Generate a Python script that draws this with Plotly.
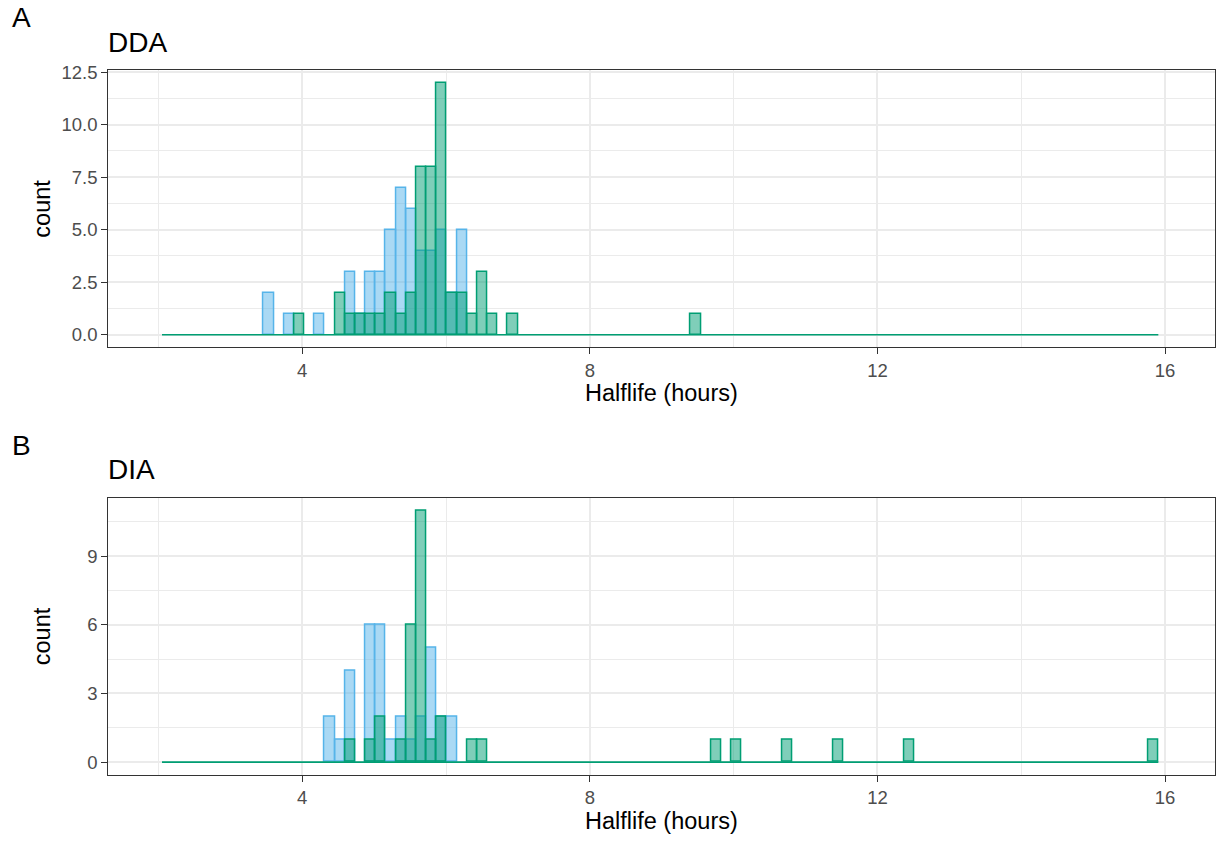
import plotly.graph_objects as go

# ---- data (halflife bin centres, hours, and counts per bin) ----
BIN_START = 2.05
BIN_END = 15.907
BIN_SIZE = 0.1414

dda_blue_x = [3.53, 3.82, 4.24, 4.67, 4.81, 4.95, 5.09, 5.23, 5.37, 5.51, 5.66, 5.80, 5.94, 6.08, 6.22]
dda_blue_n = [2, 1, 1, 3, 1, 3, 3, 5, 7, 6, 4, 4, 5, 2, 5]
dda_green_x = [3.96, 4.52, 4.67, 4.81, 4.95, 5.09, 5.23, 5.37, 5.51, 5.66, 5.80, 5.94, 6.08, 6.22,
               6.36, 6.50, 6.65, 6.93, 9.47]
dda_green_n = [1, 2, 1, 1, 1, 1, 2, 1, 2, 8, 8, 12, 2, 2, 1, 3, 1, 1, 1]

dia_blue_x = [4.38, 4.52, 4.67, 4.95, 5.09, 5.23, 5.37, 5.51, 5.66, 5.80, 5.94, 6.08]
dia_blue_n = [2, 1, 4, 6, 6, 1, 2, 1, 2, 5, 2, 2]
dia_green_x = [4.67, 4.95, 5.09, 5.37, 5.51, 5.66, 5.80, 5.94, 6.36, 6.50, 9.76, 10.04, 10.75,
               11.45, 12.44, 15.84]
dia_green_n = [1, 1, 2, 1, 6, 11, 1, 2, 1, 1, 1, 1, 1, 1, 1, 1]

x_ticks = [4, 8, 12, 16]
dda_y_ticks = [0, 2.5, 5, 7.5, 10, 12.5]
dia_y_ticks = [0, 3, 6, 9]

panel_titles = ["DDA", "DIA"]
panel_tags = ["A", "B"]

# ---- styling ----
W, H = 1222, 841
BLUE = "#56B4E9"
GREEN = "#009E73"
BLUE_FILL = "rgba(86,180,233,0.5)"
GREEN_FILL = "rgba(0,158,115,0.5)"
FONT = "Liberation Sans, Arial, sans-serif"
GRID = "#EBEBEB"
FRAME = "#333333"

def px_x(p):
    return p / W

def px_y(p):
    return 1 - p / H

fig = go.Figure()

panels = [
    dict(bx=dda_blue_x, bn=dda_blue_n, gx=dda_green_x, gn=dda_green_n,
         top=70, bottom=347.3, yr=[-0.6, 12.6], yt=dda_y_ticks, ydt=2.5, fmt=".1f"),
    dict(bx=dia_blue_x, bn=dia_blue_n, gx=dia_green_x, gn=dia_green_n,
         top=497.7, bottom=774.7, yr=[-0.55, 11.55], yt=dia_y_ticks, ydt=3, fmt="d"),
]

left, right = 108.3, 1215
xdom = [px_x(left), px_x(right)]

annotations = []
for i, p in enumerate(panels):
    xa = "x" if i == 0 else "x2"
    ya = "y" if i == 0 else "y2"
    bins = dict(start=BIN_START, end=BIN_END, size=BIN_SIZE)
    fig.add_trace(go.Histogram(x=p["bx"], y=p["bn"], histfunc="sum", xbins=bins,
                               marker=dict(color=BLUE_FILL, line=dict(color=BLUE, width=1.5)),
                               xaxis=xa, yaxis=ya, showlegend=False))
    fig.add_trace(go.Scatter(x=[BIN_START, BIN_END], y=[0, 0], mode="lines",
                             line=dict(color=GREEN, width=1.6), xaxis=xa, yaxis=ya,
                             showlegend=False, hoverinfo="skip"))
    fig.add_trace(go.Histogram(x=p["gx"], y=p["gn"], histfunc="sum", xbins=bins,
                               marker=dict(color=GREEN_FILL, line=dict(color=GREEN, width=1.5)),
                               xaxis=xa, yaxis=ya, showlegend=False))

    axis_common = dict(showline=True, mirror=True, linecolor=FRAME, linewidth=1.3,
                       ticks="outside", ticklen=6, tickwidth=1.2, tickcolor=FRAME,
                       tickfont=dict(family=FONT, size=18.5, color="#4D4D4D"),
                       showgrid=True, gridcolor=GRID, gridwidth=2, zeroline=False,
                       automargin=False)
    xkey = "xaxis" if i == 0 else "xaxis2"
    ykey = "yaxis" if i == 0 else "yaxis2"
    fig.layout[xkey] = dict(domain=xdom, range=[1.303, 16.695], tickmode="array",
                            tickvals=x_ticks, anchor=ya,
                            minor=dict(dtick=2, tick0=0, showgrid=True, gridcolor=GRID,
                                       gridwidth=1, ticks=""),
                            **axis_common)
    fig.layout[ykey] = dict(domain=[px_y(p["bottom"]), px_y(p["top"])], range=p["yr"],
                            tickmode="array", tickvals=p["yt"], tickformat=p["fmt"], anchor=xa,
                            minor=dict(dtick=p["ydt"] / 2, tick0=0, showgrid=True,
                                       gridcolor=GRID, gridwidth=1, ticks=""),
                            **axis_common)

    top, bottom = p["top"], p["bottom"]
    # axis titles
    annotations.append(dict(text="Halflife (hours)", x=px_x(661.5), y=px_y(bottom + 46),
                            xref="paper", yref="paper", xanchor="center", yanchor="middle",
                            showarrow=False, font=dict(family=FONT, size=23.5, color="black")))
    annotations.append(dict(text="count", x=px_x(42), y=px_y((top + bottom) / 2),
                            xref="paper", yref="paper", xanchor="center", yanchor="middle",
                            textangle=-90, showarrow=False,
                            font=dict(family=FONT, size=23.5, color="black")))
    # panel title
    annotations.append(dict(text=panel_titles[i], x=px_x(106), y=px_y(top - 28),
                            xref="paper", yref="paper", xanchor="left", yanchor="middle",
                            showarrow=False, font=dict(family=FONT, size=28, color="black")))
    # tag
    annotations.append(dict(text=panel_tags[i], x=px_x(10), y=px_y(top - 52),
                            xref="paper", yref="paper", xanchor="left", yanchor="middle",
                            showarrow=False, font=dict(family=FONT, size=28, color="black")))

fig.update_layout(template="none", width=W, height=H, margin=dict(l=0, r=0, t=0, b=0, pad=0),
                  paper_bgcolor="white", plot_bgcolor="white",
                  barmode="overlay", bargap=0, annotations=annotations,
                  font=dict(family=FONT))

fig.write_html("out.html")
